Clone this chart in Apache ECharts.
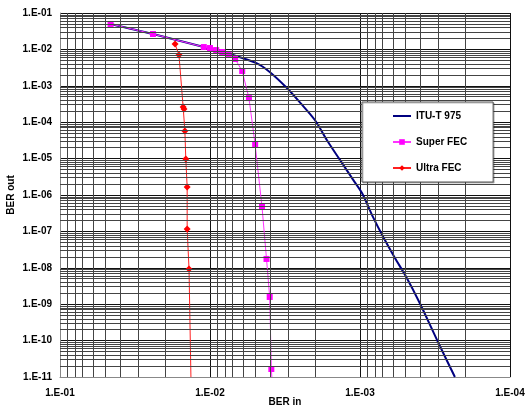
<!DOCTYPE html>
<html>
<head>
<meta charset="utf-8">
<script src="https://cdn.jsdelivr.net/npm/echarts@6/dist/echarts.min.js"></script>
<style>
  html, body { margin: 0; padding: 0; background: #fff; }
  #main { width: 525px; height: 407px; }
</style>
</head>
<body>
<div id="main"></div>
<script>
// [BER in, BER out]
var ituT975 = [
  [4.6e-2, 5.0e-2], [2.4e-2, 2.65e-2], [1.1e-2, 1.16e-2], [7.4e-3, 7.5e-3],
  [4.9e-3, 4.2e-3], [4.0e-3, 2.4e-3], [3.07e-3, 8.7e-4], [2.5e-3, 3.4e-4],
  [2.0e-3, 1.15e-4], [1.66e-3, 3.2e-5], [1.36e-3, 9.2e-6], [1.11e-3, 2.6e-6],
  [9.7e-4, 1.13e-6], [8.2e-4, 2.5e-7], [7.0e-4, 7.0e-8], [5.85e-4, 1.86e-8],
  [5.0e-4, 6.3e-9], [4.0e-4, 1.08e-9], [3.0e-4, 8.6e-11], [2.33e-4, 1e-11]
];
var superFEC = [
  [4.6e-2, 5.0e-2], [2.4e-2, 2.65e-2], [1.1e-2, 1.16e-2], [1.0e-2, 1.09e-2],
  [9.1e-3, 9.6e-3], [8.3e-3, 8.5e-3], [7.5e-3, 7.5e-3], [6.8e-3, 5.45e-3],
  [6.1e-3, 2.55e-3], [5.5e-3, 4.6e-4], [5.0e-3, 2.4e-5], [4.5e-3, 4.7e-7],
  [4.2e-3, 1.75e-8], [4.0e-3, 1.58e-9], [3.9e-3, 1.66e-11]
];
var superTail = [3.87e-3, 1e-11];
var ultraFEC = [
  [1.71e-2, 1.41e-2], [1.61e-2, 7.0e-3], [1.51e-2, 2.6e-4], [1.49e-2, 2.3e-4],
  [1.47e-2, 5.7e-5], [1.45e-2, 9.8e-6], [1.42e-2, 1.66e-6], [1.42e-2, 1.16e-7],
  [1.38e-2, 9.3e-9]
];
var ultraTail = [1.34e-2, 1e-11];

// axis range in decades (exponents)
var xExpMin = -4, xExpMax = -1;
var yExpMin = -11, yExpMax = -1;

// plotted on log10 value axes
function lg(p) { return [Math.log10(p[0]), Math.log10(p[1])]; }
function minorOf(lo, hi) {
  var out = [];
  for (var e = lo; e < hi; e++) {
    for (var k = 2; k <= 9; k++) out.push(Math.log10(k) + e);
  }
  return out;
}
function fmt(e) {
  e = Math.round(e);
  var n = Math.abs(e);
  return '1.E' + (e < 0 ? '-' : '+') + (n < 10 ? '0' + n : n);
}

var font = 'Liberation Sans, Arial, sans-serif';
var gridLines = [];
minorOf(xExpMin, xExpMax).forEach(function (v) { gridLines.push({ xAxis: v }); });
minorOf(yExpMin, yExpMax).forEach(function (v) { gridLines.push({ yAxis: v }); });

var myChart = echarts.init(document.getElementById('main'));
var option = {
  animation: false,
  grid: { left: 60, top: 13, width: 450, height: 364, outerBoundsMode: 'none' },
  xAxis: {
    type: 'value',
    inverse: true,
    min: xExpMin,
    max: xExpMax,
    interval: 1,
    name: 'BER in',
    nameLocation: 'middle',
    nameGap: 20,
    nameMoveOverlap: false,
    nameTextStyle: { fontWeight: 'bold', fontSize: 10, fontFamily: font, color: '#000' },
    axisLine: { lineStyle: { color: '#888' } },
    axisTick: { show: false },
    axisLabel: { formatter: fmt, margin: 11, fontWeight: 'bold', fontSize: 10, fontFamily: font, color: '#000' },
    splitLine: { show: true, lineStyle: { color: '#111', width: 1 } }
  },
  yAxis: {
    type: 'value',
    min: yExpMin,
    max: yExpMax,
    interval: 1,
    name: 'BER out',
    nameLocation: 'middle',
    nameGap: 44,
    nameMoveOverlap: false,
    nameTextStyle: { fontWeight: 'bold', fontSize: 10, fontFamily: font, color: '#000' },
    axisLine: { lineStyle: { color: '#888' } },
    axisTick: { show: false },
    axisLabel: { formatter: fmt, margin: 8, fontWeight: 'bold', fontSize: 10, fontFamily: font, color: '#000' },
    splitLine: { show: true, lineStyle: { color: '#111', width: 1 } }
  },
  legend: {
    orient: 'vertical',
    z: 20,
    left: 362,
    top: 102,
    padding: [9, 26, 9, 30],
    itemGap: 16,
    itemWidth: 18,
    itemHeight: 7,
    backgroundColor: '#fff',
    borderColor: '#555',
    borderWidth: 1,
    shadowColor: 'rgba(0,0,0,0.25)',
    shadowOffsetX: 1,
    shadowOffsetY: 1,
    textStyle: { fontWeight: 'bold', fontSize: 10, fontFamily: font, color: '#000' },
    data: [
      { name: 'ITU-T 975', itemStyle: { opacity: 0 } },
      'Super FEC',
      'Ultra FEC'
    ]
  },
  series: [
    {
      name: 'grid',
      type: 'line',
      data: [],
      z: 1,
      silent: true,
      markLine: {
        silent: true,
        symbol: ['none', 'none'],
        label: { show: false },
        lineStyle: { color: '#444', width: 1, type: 'solid' },
        data: gridLines
      }
    },
    {
      name: 'ITU-T 975',
      type: 'line',
      z: 3,
      data: ituT975.map(lg),
      smooth: 0.3,
      showSymbol: false,
      symbol: 'none',
      lineStyle: { color: '#000080', width: 2 },
      itemStyle: { color: '#000080' }
    },
    {
      name: 'Super FEC',
      type: 'line',
      z: 4,
      data: superFEC.map(lg).concat([{ value: lg(superTail), symbol: 'none' }]),
      symbol: 'rect',
      symbolSize: 6,
      lineStyle: { color: '#ff33ff', width: 1 },
      itemStyle: { color: '#ff00ff' }
    },
    {
      name: 'Ultra FEC',
      type: 'line',
      z: 4,
      data: ultraFEC.map(lg).concat([{ value: lg(ultraTail), symbol: 'none' }]),
      symbol: 'diamond',
      symbolSize: 7,
      lineStyle: { color: '#ff2020', width: 1 },
      itemStyle: { color: '#ff0000' }
    }
  ]
};
myChart.setOption(option);
</script>
</body>
</html>
